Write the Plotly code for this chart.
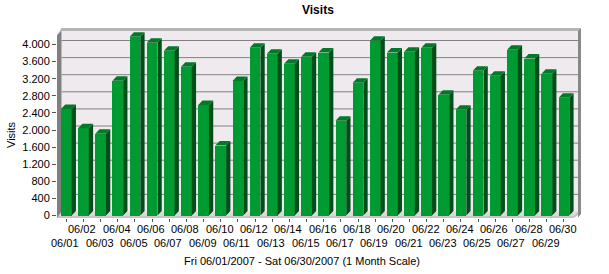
import plotly.graph_objects as go

# ---- data ----
dates = ["06/01", "06/02", "06/03", "06/04", "06/05", "06/06", "06/07", "06/08", "06/09", "06/10",
         "06/11", "06/12", "06/13", "06/14", "06/15", "06/16", "06/17", "06/18", "06/19", "06/20",
         "06/21", "06/22", "06/23", "06/24", "06/25", "06/26", "06/27", "06/28", "06/29", "06/30"]
visits = [2490, 2040, 1915, 3150, 4180, 4040, 3855, 3480, 2585, 1635,
          3145, 3925, 3785, 3550, 3715, 3810, 2215, 3105, 4090, 3810,
          3830, 3925, 2825, 2475, 3385, 3270, 3880, 3670, 3315, 2755]
y_ticks = [0, 400, 800, 1200, 1600, 2000, 2400, 2800, 3200, 3600, 4000]
title = "Visits"
y_title = "Visits"
x_title = "Fri 06/01/2007 - Sat 06/30/2007 (1 Month Scale)"

# ---- geometry (pixels of the 609x274 canvas) ----
W, H = 609, 274
PX0, PX1, PY0, PY1 = 57, 581, 28, 218      # plot area
X_FIRST, PITCH = 66.3, 17.16                # px centre of first bar, px per category
Y_ZERO, PX_PER_UNIT = 215.5, 171.0 / 4000   # px of value 0 (front plane)

def xd(px):
    return (px - X_FIRST) / PITCH

def yd(py):
    return (Y_ZERO - py) / PX_PER_UNIT

def pxp(px):
    return (px - PX0) / (PX1 - PX0)

def pyp(py):
    return (PY1 - py) / (PY1 - PY0)

BW = 10.7 / PITCH           # bar front width (data units)
DX = 4.3 / PITCH            # bar depth, x
DY = 4.5 / PX_PER_UNIT      # bar depth, y
WALL_DY = 4.0 / PX_PER_UNIT

FRONT = "#009a33"
SIDE = "#004f1a"
TOP = "#007a28"

FONT = "Liberation Sans, Arial, sans-serif"

fig = go.Figure()

# front faces
idx = list(range(len(dates)))
fig.add_trace(go.Bar(x=idx, y=visits, width=BW, marker=dict(color=FRONT, line=dict(width=0)),
                     hoverinfo="skip", showlegend=False))

# side + top faces
sx, sy, tx, ty = [], [], [], []
for i, v in zip(idx, visits):
    r = i + BW / 2
    l = i - BW / 2
    sx += [r, r + DX, r + DX, r, r, None]
    sy += [0, DY, v + DY, v, 0, None]
    tx += [l, r, r + DX, l + DX, l, None]
    ty += [v, v, v + DY, v + DY, v, None]
fig.add_trace(go.Scatter(x=sx, y=sy, mode="lines", fill="toself", fillcolor=SIDE,
                         line=dict(width=0, color=SIDE), hoverinfo="skip", showlegend=False))
fig.add_trace(go.Scatter(x=tx, y=ty, mode="lines", fill="toself", fillcolor=TOP,
                         line=dict(width=0, color=TOP), hoverinfo="skip", showlegend=False))

shapes = []

def poly(pts, color, layer="below"):
    d = "M " + " L ".join(f"{pxp(a):.5f},{pyp(b):.5f}" for a, b in pts) + " Z"
    shapes.append(dict(type="path", path=d, xref="paper", yref="paper",
                       fillcolor=color, line=dict(width=0), layer=layer))

# back wall
poly([(61.5, 31), (578, 31), (578, 211.5), (61.5, 211.5)], "#eeeaee")
# top edge
poly([(57.5, 35), (61.5, 28), (581, 28), (578, 31), (61.5, 31)], "#b4b4b4")
# right edge
poly([(578, 31), (581, 28), (581, 214), (578, 217.5)], "#888888")
# floor
poly([(57, 215.5), (61.5, 211.5), (578, 211.5), (574, 215.5)], "#dcd8dc")
poly([(57, 215.5), (574, 215.5), (578, 211.5), (578, 215), (574, 218), (57, 218)], "#c8c4c8")
# left wall
poly([(57, 35), (61.5, 31), (61.5, 211.5), (57, 218)], "#808080")

# back-wall gridlines
for t in y_ticks[1:]:
    shapes.append(dict(type="line", xref="paper", yref="y", x0=pxp(61.5), x1=pxp(578),
                       y0=t + WALL_DY, y1=t + WALL_DY, line=dict(color="#858085", width=1),
                       layer="below"))

annotations = []
for i, d in enumerate(dates):
    upper = (i % 2 == 1)
    annotations.append(dict(x=i, y=0, xref="x", yref="paper", text=d, showarrow=False,
                            xanchor="center", yanchor="middle", xshift=-1,
                            yshift=-(229.3 - PY1) if upper else -(243.3 - PY1),
                            font=dict(family=FONT, size=11, color="#000")))
annotations.append(dict(x=pxp(302), y=0, xref="paper", yref="paper", text=x_title,
                        showarrow=False, xanchor="center", yanchor="middle", yshift=-(261 - PY1),
                        font=dict(family=FONT, size=11, color="#000")))
annotations.append(dict(x=pxp(11), y=pyp(135), xref="paper", yref="paper", text=y_title,
                        showarrow=False, textangle=-90, xanchor="center", yanchor="middle",
                        font=dict(family=FONT, size=11, color="#000")))
annotations.append(dict(x=pxp(318), y=pyp(10), xref="paper", yref="paper", text="<b>" + title + "</b>",
                        showarrow=False, xanchor="center", yanchor="middle",
                        font=dict(family=FONT, size=12, color="#000")))

fig.update_layout(
    width=W, height=H,
    margin=dict(l=PX0, r=W - PX1, t=PY0, b=H - PY1, pad=0),
    paper_bgcolor="white", plot_bgcolor="white",
    separators=",.",
    shapes=shapes, annotations=annotations,
    bargap=0,
    xaxis=dict(range=[xd(PX0), xd(PX1)], tickvals=idx, ticktext=[""] * len(idx),
               ticks="outside", ticklen=3, tickcolor="#555", showgrid=False, zeroline=False,
               showline=False, fixedrange=True),
    yaxis=dict(range=[yd(PY1), yd(PY0)], tickvals=y_ticks, tickformat=",d",
               ticks="outside", ticklen=4, tickcolor="#555", showgrid=False, zeroline=False,
               showline=False, tickfont=dict(family=FONT, size=11, color="#000"), fixedrange=True),
    font=dict(family=FONT, size=11, color="#000"),
)

fig.write_html("out.html", config={"displayModeBar": False})
